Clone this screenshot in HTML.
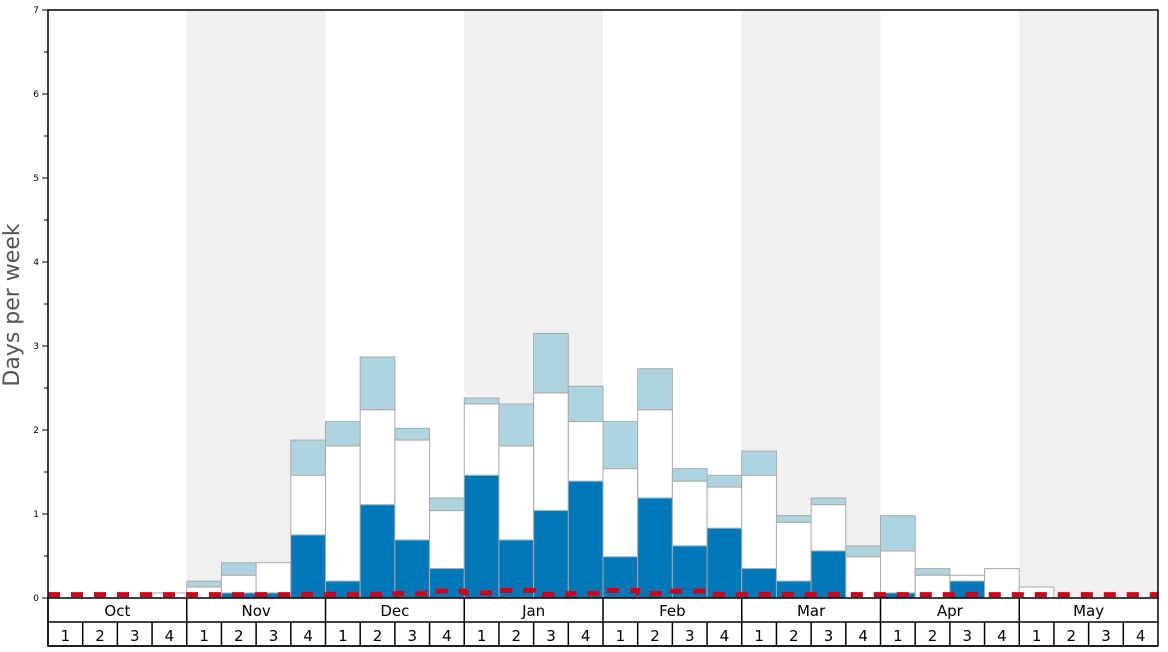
<!DOCTYPE html>
<html><head><meta charset="utf-8"><style>
body{margin:0;background:#fff;font-family:"DejaVu Sans","Liberation Sans",sans-serif}
svg text{font-family:"DejaVu Sans","Liberation Sans",sans-serif}
</style></head><body>
<svg id="chart" width="1168" height="648" xmlns="http://www.w3.org/2000/svg"></svg>
<script>
const months = ["Oct","Nov","Dec","Jan","Feb","Mar","Apr","May"];
const weekLabels = ["1","2","3","4"];
const yTicks = [0,1,2,3,4,5,6,7];
const blueVals = [0,0,0,0, 0,0.06,0.06,0.75, 0.2,1.11,0.69,0.35, 1.46,0.69,1.04,1.39, 0.49,1.19,0.62,0.83, 0.35,0.2,0.56,0, 0.06,0,0.2,0, 0,0,0,0];
const whiteVals = [0,0,0,0.06, 0.13,0.27,0.42,1.46, 1.81,2.24,1.88,1.04, 2.31,1.81,2.44,2.1, 1.54,2.24,1.39,1.32, 1.46,0.9,1.11,0.49, 0.56,0.27,0.27,0.35, 0.13,0,0,0];
const lightVals = [0,0,0,0.06, 0.2,0.42,0.42,1.88, 2.1,2.87,2.02,1.19, 2.38,2.31,3.15,2.52, 2.1,2.73,1.54,1.46, 1.75,0.98,1.19,0.62, 0.98,0.35,0.27,0.35, 0.13,0,0,0];
const redVals = [0.04,0.04,0.04,0.04, 0.04,0.04,0.04,0.04, 0.04,0.04,0.05,0.08, 0.06,0.09,0.04,0.05, 0.09,0.05,0.08,0.04, 0.04,0.04,0.04,0.04, 0.04,0.04,0.04,0.04, 0.04,0.04,0.04,0.04];

const NS="http://www.w3.org/2000/svg", svg=document.getElementById('chart');
const L=48,R=1158,T=10,B=598,N=32,W=(R-L)/N;
const x=i=>L+i*W, y=v=>B-(B-T)*v/7;
function mk(t,a,p){const e=document.createElementNS(NS,t);for(const k in a)e.setAttribute(k,a[k]);(p||svg).appendChild(e);return e;}

months.forEach((m,i)=>{if(i%2==1){const r=mk('rect',{x:x(i*4),y:T,width:W*4,height:B-T,fill:'#f0f0f0'});

}});

function bar(i,v0,v1,fill,name){if(v1<=v0)return;const r=mk('rect',{x:x(i),y:y(v1),width:W,height:y(v0)-y(v1),fill:fill,stroke:'#aaa','stroke-width':1});

}
for(let i=0;i<N;i++){
 bar(i,whiteVals[i],lightVals[i],'#aed4e0','bar-light-'+i);
 bar(i,blueVals[i],whiteVals[i],'#ffffff','bar-white-'+i);
 bar(i,0,blueVals[i],'#0077b6','bar-blue-'+i);
}
let d='';for(let i=0;i<N;i++){d+=(i?'L':'M')+x(i)+','+y(redVals[i])+'L'+x(i+1)+','+y(redVals[i]);}
const rl=mk('path',{d:d,fill:'none',stroke:'#d0021b','stroke-width':5,'stroke-dasharray':'12 11'});



const frame=mk('rect',{x:L,y:T,width:R-L,height:646-T,fill:'none',stroke:'#000','stroke-width':1.5});


mk('line',{x1:L,x2:R,y1:B,y2:B,stroke:'#000','stroke-width':1.5});
mk('line',{x1:L,x2:R,y1:622,y2:622,stroke:'#000','stroke-width':1.5});
mk('line',{x1:L,x2:R,y1:646,y2:646,stroke:'#000','stroke-width':1.5});
months.forEach((m,i)=>{
 mk('line',{x1:x(i*4),x2:x(i*4),y1:B,y2:622,stroke:'#000','stroke-width':1.5});
 const t=mk('text',{x:x(i*4+2),y:616,'text-anchor':'middle','font-size':15});t.textContent=m;
 
 
 weekLabels.forEach((w,j)=>{const k=i*4+j;
  mk('line',{x1:x(k),x2:x(k),y1:622,y2:646,stroke:'#000','stroke-width':1.5});
  const tw=mk('text',{x:x(k)+W/2,y:641,'text-anchor':'middle','font-size':15});tw.textContent=w;
  
  });
});
yTicks.forEach(v=>{
 mk('line',{x1:L-6,x2:L,y1:y(v),y2:y(v),stroke:'#000'});
 if(v<7)mk('line',{x1:L-4,x2:L,y1:y(v+0.5),y2:y(v+0.5),stroke:'#000'});
 const t=mk('text',{x:L-9,y:y(v)+3,'text-anchor':'end','font-size':9});t.textContent=v;
 
 
});
const yt=mk('text',{x:0,y:0,transform:'translate(19,305) rotate(-90)','text-anchor':'middle','font-size':22,fill:'#555'});
yt.textContent='Days per week';


</script>
</body></html>
